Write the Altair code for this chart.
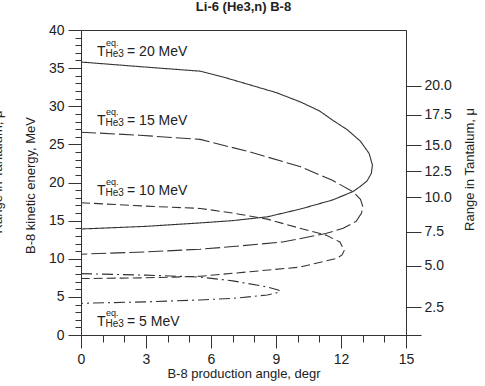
import altair as alt
import pandas as pd

# ---- data ----
series_names = ["20", "15", "10", "5"]

angle_20 = [0, 2.7, 5.5, 6.6, 7.8, 9.0, 10.1, 11.0, 11.6, 12.3, 12.9, 13.3, 13.45,
            13.4, 13.2, 12.9, 12.55, 11.6, 10.1, 8.6, 7.0, 5.5, 3.0, 0]
energy_20 = [35.8, 35.2, 34.6, 33.8, 32.8, 31.8, 30.6, 29.4, 28.2, 26.9, 25.4, 23.8, 22.3,
             21.2, 20.2, 19.5, 18.8, 17.7, 16.5, 15.5, 15.0, 14.7, 14.25, 13.9]

angle_15 = [0, 2.7, 5.5, 7.8, 10.1, 11.6, 12.55, 12.9, 13.0,
            12.95, 12.7, 12.1, 11.3, 9.3, 7.0, 5.5, 3.0, 0]
energy_15 = [26.6, 26.2, 25.65, 24.0, 22.1, 20.3, 18.8, 17.8, 16.9,
             16.0, 14.9, 14.0, 13.3, 12.2, 11.6, 11.25, 10.9, 10.6]

angle_10 = [0, 3.0, 5.5, 7.0, 8.6, 10.1, 11.3, 11.95, 12.15,
            12.05, 11.8, 10.1, 7.8, 5.5, 3.0, 0]
energy_10 = [17.35, 16.9, 16.6, 16.0, 15.2, 14.0, 13.1, 12.2, 11.1,
             10.5, 10.05, 8.9, 8.3, 7.7, 7.5, 7.4]

angle_5 = [0, 3.0, 5.5, 7.0, 8.6, 9.1, 9.2,
           9.0, 8.6, 7.0, 5.5, 3.0, 0]
energy_5 = [8.05, 7.85, 7.6, 7.1, 6.3, 5.9, 5.75,
            5.5, 5.25, 4.8, 4.6, 4.35, 4.15]

# range in tantalum (right axis) and the B-8 energy it corresponds to
range_mu = [0, 2.5, 5.0, 7.5, 10.0, 12.5, 15.0, 17.5, 20.0]
range_energy = [0, 3.65, 9.05, 13.55, 18.05, 21.5, 24.9, 28.9, 32.7]

# curve labels
label_values = ["20", "15", "10", "5"]
label_angle = [0.74, 0.74, 0.74, 0.74]
label_energy = [36.6, 27.5, 18.4, 1.2]

x_ticks = list(range(0, 16))
y_ticks = list(range(0, 41))

# ---- tables ----
rows = []
for name, xs, ys in [("20", angle_20, energy_20), ("15", angle_15, energy_15),
                     ("10", angle_10, energy_10), ("5", angle_5, energy_5)]:
    for i, (a, e) in enumerate(zip(xs, ys)):
        rows.append({"series": name, "i": i, "angle": a, "E": e})
curves_df = pd.DataFrame(rows)

labels_df = pd.DataFrame({
    "angle": label_angle,
    "E": label_energy,
    "tail": [f"= {v} MeV" for v in label_values],
})
range_df = pd.DataFrame({"E": range_energy, "mu": range_mu})

FONT = "Liberation Sans"
INK = "#222222"
LINE = "#333333"

xscale = alt.Scale(domain=[0, 15], nice=False, zero=False)
yscale = alt.Scale(domain=[0, 40], nice=False, zero=False)

x_axis = alt.Axis(
    values=x_ticks,
    labelExpr="datum.value % 3 === 0 ? datum.label : ''",
    tickSize={"condition": {"test": "datum.value % 3 === 0", "value": 13}, "value": 7},
    labelOverlap=False, labelFlush=False, grid=False,
    title="B-8 production angle, degr",
    titleX=162.5, titleY=38, titleBaseline="middle", titleAlign="center",
    labelPadding=4,
)
y_axis = alt.Axis(
    values=y_ticks, orient="left",
    labelExpr="datum.value % 5 === 0 ? datum.label : ''",
    tickSize={"condition": {"test": "datum.value % 5 === 0", "value": 13}, "value": 6},
    labelOverlap=False, labelFlush=False, grid=False,
    title="B-8 kinetic energy, MeV",
    titleAngle=270, titleX=-51, titleY=155,
    titleBaseline="middle", titleAlign="center",
    labelPadding=4,
)

X = alt.X("angle:Q", scale=xscale, axis=x_axis)
Y = alt.Y("E:Q", scale=yscale, axis=y_axis)

curves = alt.Chart(curves_df).mark_line(color=LINE, strokeWidth=1.1).encode(
    x=X, y=Y,
    strokeDash=alt.StrokeDash(
        "series:N",
        scale=alt.Scale(domain=series_names,
                        range=[[1, 0], [15, 4], [9, 4], [11, 4, 2, 4]]),
        legend=None),
    order=alt.Order("i:Q"),
)

base_lbl = alt.Chart(labels_df)
t_main = base_lbl.mark_text(align="left", baseline="alphabetic", font=FONT,
                            fontSize=14, color=INK).encode(x=X, y=Y, text=alt.value("T"))
t_sup = base_lbl.mark_text(align="left", baseline="alphabetic", font=FONT,
                           fontSize=9, color=INK, dx=9, dy=-10).encode(
    x=X, y=Y, text=alt.value("eq."))
t_sub = base_lbl.mark_text(align="left", baseline="alphabetic", font=FONT,
                           fontSize=10, color=INK, dx=8.5, dy=1).encode(
    x=X, y=Y, text=alt.value("He3"))
t_tail = base_lbl.mark_text(align="left", baseline="alphabetic", font=FONT,
                            fontSize=14, color=INK, dx=30).encode(
    x=X, y=Y, text="tail:N")

left_clip = alt.Chart(pd.DataFrame({"t": ["Range in Tantalum, μ"]})).mark_text(
    angle=270, align="center", baseline="bottom", font=FONT, fontSize=13, color=INK
).encode(x=alt.value(-76), y=alt.value(142), text="t:N")

inner = alt.layer(curves, t_main, t_sup, t_sub, t_tail, left_clip)

label_expr = "''"
for e, r in reversed(list(zip(range_energy, range_mu))):
    lab = "" if r == 0 else f"{r:.1f}"
    label_expr = f"abs(datum.value - {e}) < 0.01 ? '{lab}' : " + label_expr

right = alt.Chart(range_df).mark_point(opacity=0).encode(
    y=alt.Y("E:Q", scale=yscale, axis=alt.Axis(
        orient="right", values=range_energy, labelExpr=label_expr,
        tickSize=15, labelPadding=3, labelOverlap=False, labelFlush=False, grid=False,
        title="Range in Tantalum, μ", titleAngle=270, titleX=63, titleY=139,
        titleBaseline="middle", titleAlign="center")),
)

chart = alt.layer(inner, right).resolve_scale(y="independent").properties(
    width=325, height=305,
    background="white",
    autosize=alt.AutoSizeParams(type="none"),
    padding={"left": 81, "top": 30, "right": 79, "bottom": 51},
    title=alt.Title("Li-6 (He3,n) B-8", font=FONT, fontSize=13, fontWeight="bold",
                    color=INK, offset=9, anchor="middle"),
).configure_view(stroke=LINE, strokeWidth=1).configure_axis(
    domainColor=LINE, tickColor=LINE, domainWidth=1, tickWidth=1,
    labelFont=FONT, labelFontSize=14, labelColor=INK,
    titleFont=FONT, titleFontSize=13, titleFontWeight="normal", titleColor=INK,
)

chart.save("out.html", embed_options={"renderer": "svg", "actions": False})
